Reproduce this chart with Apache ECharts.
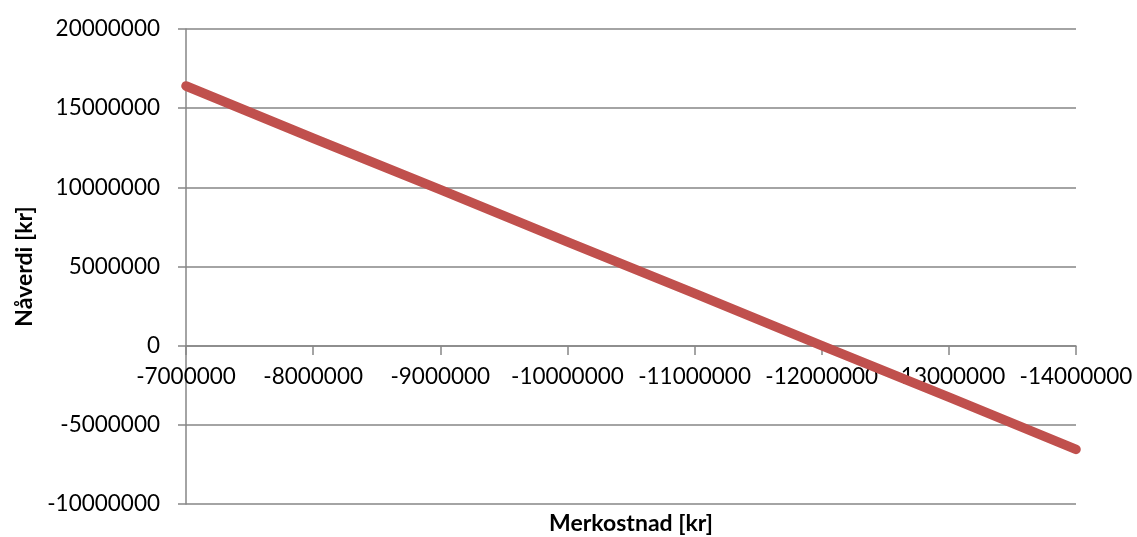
<!DOCTYPE html>
<html>
<head>
<meta charset="utf-8">
<script src="https://cdn.jsdelivr.net/npm/echarts@6/dist/echarts.min.js"></script>
<style>html,body{margin:0;padding:0;background:#fff}#c{width:1137px;height:537px}</style>
</head>
<body>
<div id="c"></div>
<script>
const categories = ['-7000000','-8000000','-9000000','-10000000','-11000000','-12000000','-13000000','-14000000'];
const npvValues = [16400000, 13100000, 9850000, 6550000, 3300000, 0, -3250000, -6550000];
const yMin = -10000000, yMax = 20000000, yInterval = 5000000;
const xTitle = 'Merkostnad [kr]';
const yTitle = 'Nåverdi [kr]';

const chart = echarts.init(document.getElementById('c'));
const gray = '#868686';
const font = 'Lato, "Open Sans", sans-serif';
chart.setOption({
  animation: false,
  grid: {left: 186, right: 61, top: 29, bottom: 33, containLabel: false, outerBoundsMode: 'none'},
  xAxis: {
    type: 'category',
    data: categories,
    boundaryGap: false,
    offset: -158,
    axisLine: {onZero: false, lineStyle: {color: gray, width: 1.5}},
    axisTick: {show: true, length: 9, interval: 0, lineStyle: {color: gray, width: 1.5}},
    axisLabel: {color: '#000', fontFamily: font, fontSize: 22.5, margin: 19, interval: 0, hideOverlap: false},
    splitLine: {show: false},
    name: xTitle,
    nameLocation: 'middle',
    nameGap: 166,
    nameTextStyle: {color: '#000', fontFamily: font, fontSize: 23, fontWeight: 'bold'}
  },
  yAxis: {
    type: 'value',
    min: yMin, max: yMax, interval: yInterval,
    axisLine: {show: true, lineStyle: {color: gray, width: 1.5}},
    axisTick: {show: true, length: 8, lineStyle: {color: gray, width: 1.5}},
    axisLabel: {color: '#000', fontFamily: font, fontSize: 22.5, margin: 26, formatter: v => String(v)},
    splitLine: {show: true, lineStyle: {color: gray, width: 1.5}},
    name: yTitle,
    nameLocation: 'middle',
    nameGap: 148,
    nameTextStyle: {color: '#000', fontFamily: font, fontSize: 23, fontWeight: 'bold'}
  },
  series: [{
    type: 'line',
    data: npvValues,
    symbol: 'none',
    lineStyle: {color: '#C0504D', width: 9.5, cap: 'round', join: 'round'},
    itemStyle: {color: '#C0504D'}
  }]
});
</script>
</body>
</html>
